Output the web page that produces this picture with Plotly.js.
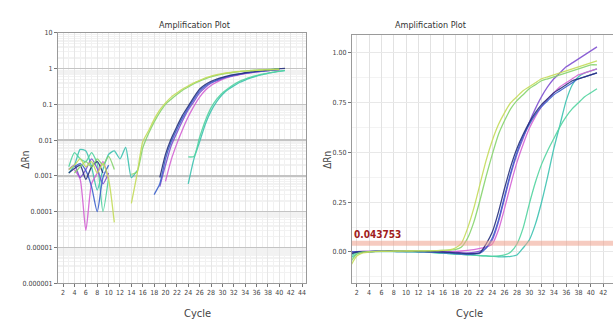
<!DOCTYPE html>
<html><head><meta charset="utf-8">
<script src="https://cdn.plot.ly/plotly-3.0.1.min.js"></script>
<style>html,body{margin:0;padding:0;background:#fff;}#chart{width:613px;height:333px;}</style>
</head><body><div id="chart"></div>
<script>
// ---------- data ----------
const cycles = [1,2,3,4,5,6,7,8,9,10,11,12,13,14,15,16,17,18,19,20,21,22,23,24,25,26,27,28,29,30,31,32,33,34,35,36,37,38,39,40,41];

// Left panel (log ΔRn)
const logYellowGreen = [null,null,0.0015,0.002,0.003,0.0018,0.0025,0.0012,0.0022,0.0008,0.00005,null,null,0.00017,0.0011,0.009,0.018,0.038,0.07,0.11,0.16,0.21,0.27,0.33,0.4,0.47,0.55,0.62,0.68,0.73,0.77,0.81,0.84,0.86,0.88,0.9,0.92,0.93,0.94,0.95,null];
const logGreen = [null,null,null,0.0012,0.0018,0.0025,0.0018,0.003,0.002,0.0035,0.0015,null,null,0.0011,0.0013,0.006,0.015,0.032,0.06,0.1,0.14,0.19,0.25,0.31,0.38,0.45,0.52,0.59,0.65,0.7,0.75,0.79,0.83,0.86,0.89,0.91,0.93,0.95,0.97,0.98,null];
const logNavy = [null,null,0.0012,0.0016,0.002,0.0008,0.0018,0.0025,0.0012,null,null,null,null,null,null,null,null,null,0.0009,0.004,0.011,0.024,0.05,0.09,0.16,0.27,0.36,0.44,0.51,0.57,0.63,0.68,0.72,0.77,0.81,0.85,0.88,0.92,0.96,1.0,1.02];
const logBlue = [null,null,null,0.0018,0.0022,0.0014,0.0005,0.0001,0.0009,0.002,null,null,null,null,null,null,null,0.0003,0.0006,0.003,0.009,0.02,0.042,0.08,0.14,0.24,0.33,0.41,0.48,0.55,0.61,0.66,0.71,0.75,0.79,0.83,0.86,0.89,0.92,0.95,null];
const logPurple = [null,null,0.0015,0.002,0.0009,0.0015,0.003,0.0016,0.0006,0.0012,null,null,null,null,null,null,null,null,0.0005,0.002,0.007,0.016,0.035,0.07,0.12,0.21,0.3,0.39,0.46,0.53,0.59,0.64,0.69,0.74,0.78,0.82,0.85,0.88,0.91,0.94,null];
const logMagenta = [null,null,null,0.0015,0.0008,0.00003,0.0006,0.0012,0.0025,0.0008,null,null,null,null,null,null,null,null,null,0.0007,0.0028,0.008,0.02,0.045,0.09,0.16,0.25,0.34,0.42,0.5,0.57,0.63,0.68,0.73,0.77,0.81,0.85,0.88,0.91,0.94,null];
const logTeal = [null,null,0.0012,0.002,0.0055,0.005,0.0018,0.0004,0.0015,0.004,0.005,0.003,0.0063,0.0009,0.0014,null,null,null,null,null,null,null,null,0.0006,0.003,0.009,0.028,0.065,0.12,0.19,0.26,0.33,0.41,0.48,0.55,0.62,0.68,0.74,0.79,0.84,0.88];
const logAqua = [null,null,0.0018,0.0045,0.003,0.0025,0.0045,0.0022,0.0001,0.0009,null,null,null,null,null,null,null,null,null,null,null,null,null,0.0034,0.0035,0.012,0.035,0.08,0.14,0.21,0.28,0.36,0.44,0.51,0.58,0.64,0.7,0.75,0.8,0.85,0.9];

// Right panel (linear ΔRn)
const linYellowGreen = [-0.07,-0.02,-0.005,0.0,0.002,0.003,0.003,0.004,0.004,0.005,0.005,0.006,0.006,0.006,0.007,0.008,0.01,0.02,0.045,0.12,0.22,0.34,0.46,0.56,0.64,0.7,0.75,0.78,0.81,0.83,0.85,0.87,0.88,0.89,0.9,0.91,0.92,0.93,0.94,0.95,0.96];
const linGreen = [-0.05,-0.01,0.0,0.002,0.003,0.004,0.004,0.005,0.005,0.006,0.006,0.006,0.006,0.007,0.007,0.008,0.009,0.012,0.025,0.07,0.15,0.26,0.38,0.49,0.59,0.66,0.72,0.76,0.79,0.82,0.84,0.86,0.87,0.88,0.89,0.9,0.91,0.92,0.93,0.94,0.94];
const linNavy = [-0.01,0.0,0.0,0.002,0.003,0.003,0.004,0.004,0.004,0.004,0.004,0.003,0.003,0.002,0.001,0.0,-0.002,-0.004,-0.006,-0.008,-0.008,-0.004,0.04,0.1,0.2,0.32,0.43,0.52,0.59,0.65,0.7,0.74,0.77,0.8,0.82,0.84,0.86,0.87,0.88,0.89,0.9];
const linBlue = [0.0,0.001,0.002,0.002,0.003,0.003,0.003,0.003,0.002,0.002,0.002,0.001,0.001,0.0,-0.002,-0.004,-0.006,-0.008,-0.01,-0.012,-0.01,-0.006,0.02,0.07,0.16,0.28,0.4,0.5,0.58,0.64,0.69,0.73,0.76,0.79,0.81,0.83,0.85,0.87,0.88,0.89,0.9];
const linPurple = [0.0,0.002,0.003,0.003,0.004,0.004,0.004,0.004,0.003,0.003,0.003,0.003,0.002,0.002,0.001,0.0,0.0,-0.002,-0.004,-0.004,-0.002,0.004,0.02,0.06,0.15,0.27,0.39,0.49,0.57,0.65,0.72,0.78,0.83,0.87,0.9,0.93,0.95,0.97,0.99,1.01,1.03];
const linMagenta = [0.0,0.002,0.003,0.003,0.003,0.004,0.004,0.004,0.004,0.004,0.003,0.003,0.003,0.003,0.002,0.002,0.002,0.003,0.005,0.008,0.012,0.018,0.025,0.04,0.11,0.22,0.34,0.45,0.54,0.62,0.68,0.73,0.77,0.8,0.83,0.85,0.87,0.89,0.9,0.91,0.92];
const linTeal = [-0.03,-0.01,0.0,0.001,0.002,0.002,0.002,0.002,0.002,0.001,0.001,0.0,0.0,-0.002,-0.004,-0.006,-0.008,-0.01,-0.012,-0.014,-0.016,-0.018,-0.02,-0.022,-0.024,-0.024,-0.022,-0.015,0.02,0.06,0.14,0.25,0.38,0.52,0.64,0.76,0.84,0.88,0.9,0.91,0.92];
const linAqua = [-0.02,-0.005,0.0,0.002,0.003,0.003,0.003,0.003,0.002,0.002,0.002,0.001,0.0,-0.002,-0.004,-0.006,-0.008,-0.01,-0.012,-0.014,-0.016,-0.018,-0.02,-0.022,-0.02,-0.015,0.0,0.04,0.12,0.24,0.35,0.44,0.51,0.57,0.63,0.68,0.72,0.75,0.78,0.8,0.82];

const threshold = 0.043753;
const thresholdLabel = "0.043753";

const leftTickVals = [10,1,0.1,0.01,0.001,0.0001,0.00001,0.000001];
const leftTickText = ["10","1","0.1","0.01","0.001","0.0001","0.00001","0.000001"];
const rightTickVals = [0,0.25,0.5,0.75,1.0];
const rightTickText = ["0.00","0.25","0.50","0.75","1.00"];

const titleText = "Amplification Plot";
const xTitle = "Cycle";
const yTitle = "ΔRn";

// ---------- styling ----------
const colors = {
  yg:'#c4dc5a', gr:'#86d46e', navy:'#27307c', blue:'#3d62cc', purple:'#8050d0',
  mag:'#d462d4', teal:'#3cc2b0', aqua:'#52d4a0'
};
const FONT = "'Liberation Sans Narrow','DejaVu Sans Condensed','Arial Narrow','Liberation Sans',sans-serif";

function tr(y, col, xa, ya){
  return {x: cycles, y: y, type:'scatter', mode:'lines', xaxis:xa, yaxis:ya,
    line:{color:col, width:1.3, shape:'spline', smoothing:0.6}, connectgaps:false, hoverinfo:'skip', showlegend:false, opacity:0.9};
}
const traces = [
  tr(logTeal, colors.teal,'x','y'), tr(logAqua, colors.aqua,'x','y'),
  tr(logMagenta, colors.mag,'x','y'), tr(logPurple, colors.purple,'x','y'),
  tr(logBlue, colors.blue,'x','y'), tr(logNavy, colors.navy,'x','y'),
  tr(logGreen, colors.gr,'x','y'), tr(logYellowGreen, colors.yg,'x','y'),
  tr(linTeal, colors.teal,'x2','y2'), tr(linAqua, colors.aqua,'x2','y2'),
  tr(linMagenta, colors.mag,'x2','y2'), tr(linPurple, colors.purple,'x2','y2'),
  tr(linBlue, colors.blue,'x2','y2'), tr(linNavy, colors.navy,'x2','y2'),
  tr(linGreen, colors.gr,'x2','y2'), tr(linYellowGreen, colors.yg,'x2','y2')
];

const logMinor = [];
for (let e=-6;e<1;e++){ for(let m=2;m<10;m++){ logMinor.push(m*Math.pow(10,e)); } }

const axBase = {showline:true, mirror:true, linecolor:'#9a9a9a', linewidth:1, zeroline:false,
  ticks:'outside', ticklen:3, tickcolor:'#777', tickfont:{family:FONT, size:7, color:'#444'}};

const layout = {
  width:613, height:333, margin:{l:0,r:0,t:0,b:0},
  paper_bgcolor:'#fff', plot_bgcolor:'#fff',
  xaxis: Object.assign({}, axBase, {domain:[0.0946,0.4992], range:[1.1,44.7], tick0:2, dtick:2, anchor:'y',
     gridcolor:'#e6e6e6', gridwidth:1, minor:{dtick:1, showgrid:true, gridcolor:'#f1f1f1'}}),
  yaxis: Object.assign({}, axBase, {domain:[0.150,0.901], type:'log', range:[-6,1], anchor:'x',
     tickmode:'array', tickvals:leftTickVals, ticktext:leftTickText, gridcolor:'#c4c4c4', gridwidth:1.5,
     minor:{tickvals:logMinor, showgrid:true, gridcolor:'#f2f2f2', ticks:''}}),
  xaxis2: Object.assign({}, axBase, {domain:[0.574,1.0], range:[1.2,43.6], tick0:2, dtick:2, anchor:'y2',
     gridcolor:'#e2e2e2', gridwidth:1}),
  yaxis2: Object.assign({}, axBase, {domain:[0.150,0.895], range:[-0.156,1.09], anchor:'x2',
     tickmode:'array', tickvals:rightTickVals, ticktext:rightTickText, gridcolor:'#e8e8e8',
     minor:{dtick:0.125, showgrid:true, gridcolor:'#f3f3f3', ticks:''}}),
  shapes:[
    {type:'line', xref:'x2 domain', x0:0, x1:1, yref:'y2', y0:threshold, y1:threshold,
     line:{color:'rgba(238,160,140,0.55)', width:5}, layer:'above'}
  ],
  annotations:[
    {text:'<b>'+thresholdLabel+'</b>', xref:'x2 domain', x:0.002, yref:'y2', y:threshold, xanchor:'left', yanchor:'bottom', yshift:1,
     showarrow:false, font:{family:FONT, size:10, color:'#a01c1c'}},
    {text:titleText, xref:'paper', yref:'paper', x:0.256, y:0.946, showarrow:false, font:{family:FONT, size:9, color:'#333'}},
    {text:titleText, xref:'paper', yref:'paper', x:0.763, y:0.946, showarrow:false, font:{family:FONT, size:9, color:'#333'}},
    {text:xTitle, xref:'paper', yref:'paper', x:0.297, y:0.033, showarrow:false, font:{family:FONT, size:11, color:'#444'}},
    {text:xTitle, xref:'paper', yref:'paper', x:0.791, y:0.033, showarrow:false, font:{family:FONT, size:11, color:'#444'}},
    {text:yTitle, xref:'paper', yref:'paper', x:0.030, y:0.52, textangle:-90, showarrow:false, font:{family:FONT, size:10, color:'#444'}},
    {text:yTitle, xref:'paper', yref:'paper', x:0.535, y:0.52, textangle:-90, showarrow:false, font:{family:FONT, size:10, color:'#444'}}
  ]
};
Plotly.newPlot('chart', traces, layout, {staticPlot:true, displayModeBar:false});
</script></body></html>
